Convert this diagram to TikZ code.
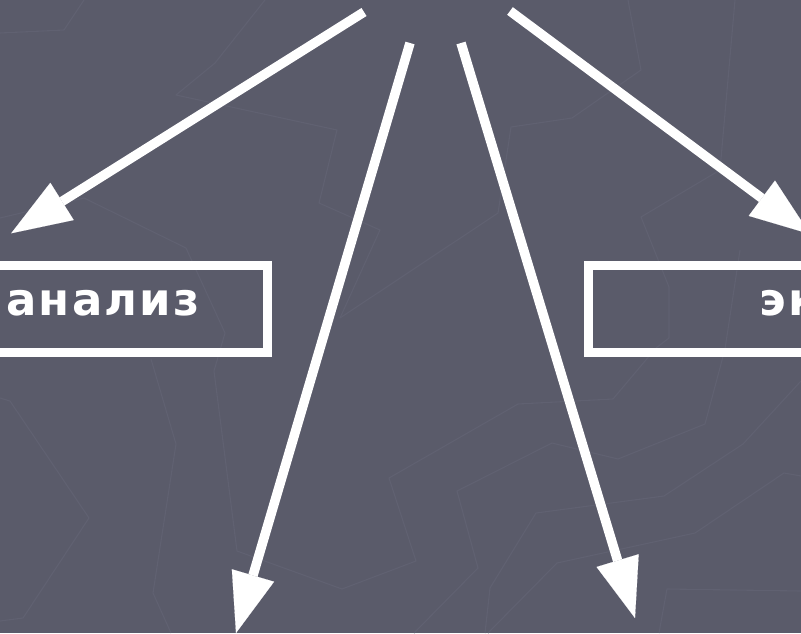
\documentclass[tikz,border=0pt]{standalone}
\usepackage{fontspec}
\setmainfont{DejaVu Sans}
\newfontfamily\lblfont[LetterSpace=5]{DejaVu Sans}
\usetikzlibrary{arrows.meta}
\definecolor{bgcol}{RGB}{90,91,106}
\definecolor{texcol}{RGB}{96,97,113}
\begin{document}
\begin{tikzpicture}[x=1pt,y=-1pt,
  arr/.style={draw=white, line width=9.5pt, -{Triangle[length=60pt,width=44pt,line width=0.1pt]}},
  boxst/.style={draw=white, line width=9pt, rectangle, inner sep=0pt, outer sep=0pt},
  lbl/.style={text=white, inner sep=0pt, anchor=base west, font=\lblfont\bfseries\fontsize{45}{52}\selectfont},
  texline/.style={draw=texcol, line width=1.1pt, line join=round}]
\useasboundingbox (0,0) rectangle (801,633);
\clip (0,0) rectangle (801,633);
\fill[bgcol] (0,0) rectangle (801,633);
% faint background texture
\draw[texline] (0,33) -- (64,30) -- (84,0);
\draw[texline] (265,0) -- (215,63) -- (176,95) -- (337,130) -- (319,203) -- (380,230) -- (340,318);
\draw[texline] (0,218) -- (84,198) -- (186,248) -- (225,333) -- (214,371) -- (237,551) -- (342,589) -- (416,561) -- (389,478) -- (518,404) -- (613,399) -- (656,348) -- (669,338) -- (669,287) -- (641,217) -- (720,170) -- (735,0);
\draw[texline] (628,0) -- (641,70) -- (572,118) -- (511,127) -- (498,213) -- (340,318);
\draw[texline] (0,398) -- (10,401) -- (89,518) -- (23,618) -- (0,621);
\draw[texline] (151,359) -- (176,444) -- (153,593) -- (171,633);
\draw[texline] (414,633) -- (478,568) -- (457,491) -- (552,443) -- (618,459) -- (705,424) -- (725,349) -- (740,250);
\draw[texline] (485,633) -- (490,588) -- (536,513) -- (664,496) -- (743,444) -- (801,381);
\draw[texline] (488,633) -- (557,563) -- (695,533) -- (784,473) -- (801,476);
\draw[texline] (659,633) -- (667,589) -- (801,591);
% boxes
\node[boxst, minimum width=327.6pt, minimum height=86.3pt] (boxA) at (103.8,308.9) {};
\node[boxst, minimum width=512pt, minimum height=86.3pt] (boxB) at (844,308.9) {};
\node[lbl] (txtA) at (6,315.5) {анализ};
\node[lbl] (txtB) at (759,315.5) {эк};
% arrows
\coordinate (s1) at (364,12);
\coordinate (t1) at (11.2,233.3);
\coordinate (s2) at (410,43);
\coordinate (t2) at (236,633);
\coordinate (s3) at (461,43);
\coordinate (t3) at (635,618);
\coordinate (s4) at (510,11);
\coordinate (t4) at (810,234);
\draw[arr] (s1) -- (t1);
\draw[arr] (s2) -- (t2);
\draw[arr] (s3) -- (t3);
\draw[arr] (s4) -- (t4);
\end{tikzpicture}
\end{document}
